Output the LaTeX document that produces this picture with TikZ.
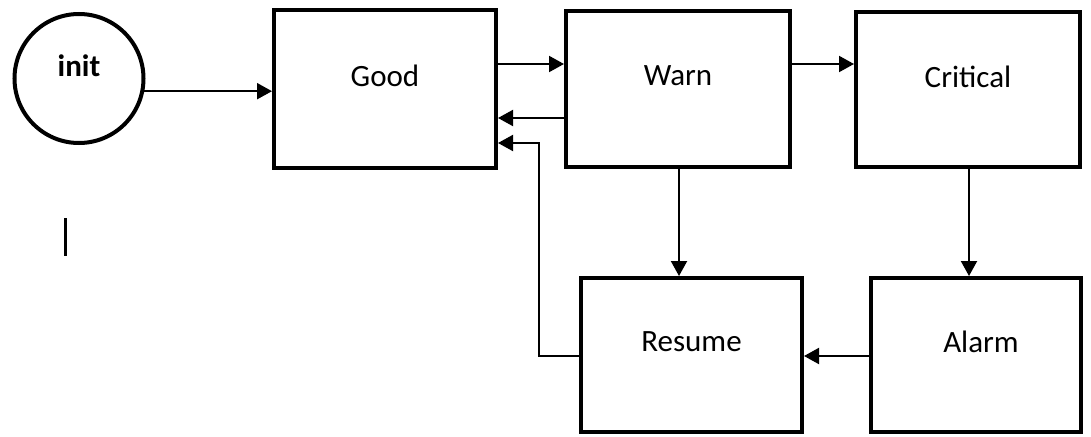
\documentclass[tikz,border=0pt]{standalone}
\usepackage{fontspec}
\setmainfont{Carlito}
\usetikzlibrary{arrows.meta}
\begin{document}
\begin{tikzpicture}[
  x=1pt, y=-1pt,
  statebox/.style={draw=black, line width=4pt, rectangle, inner sep=0pt,
    minimum width=224pt, minimum height=156pt},
  startcircle/.style={draw=black, line width=4pt, circle, inner sep=0pt,
    minimum size=129pt},
  lbl/.style={font=\fontsize{31}{31}\selectfont, yshift=13pt},
  conn/.style={draw=black, line width=2pt,
    -{Triangle[length=15pt, width=16pt]}},
]
\fill[white] (0,0) rectangle (1091,436);
\useasboundingbox (0,0) rectangle (1091,436);

% states
\node[startcircle, label={[lbl, font=\fontsize{31}{31}\selectfont\bfseries]center:init}] (init) at (79,78.5) {};
\node[statebox, minimum width=222pt, minimum height=158pt, label={[lbl]center:Good}] (good) at (385,89) {};
\node[statebox, label={[lbl]center:Warn}] (warn) at (678,89) {};
\node[statebox, minimum height=155pt, label={[lbl]center:Critical}] (critical) at (968,89.5) {};
\node[statebox, minimum width=221pt, minimum height=154pt, label={[lbl]center:Resume}] (resume) at (691.5,355) {};
\node[statebox, minimum width=210pt, minimum height=154pt, label={[lbl, xshift=5pt]center:Alarm}] (alarm) at (976,355) {};

% transitions
\draw[conn] (init.-11) -- (init.-11 -| good.west);
\draw[conn] ([yshift=25pt]good.east) -- ([yshift=25pt]good.east -| warn.west);
\draw[conn] ([yshift=-29pt]warn.west) -- ([yshift=-29pt]warn.west -| good.east);
\draw[conn] ([yshift=25pt]warn.east) -- ([yshift=25pt]warn.east -| critical.west);
\draw[conn] ([xshift=1pt]warn.south) -- ([xshift=1pt]warn.south |- resume.north);
\draw[conn] ([xshift=1pt]critical.south) -- ([xshift=1pt]critical.south |- alarm.north);
\draw[conn] ([yshift=-1pt]alarm.west) -- ([yshift=-1pt]alarm.west -| resume.east);
\draw[conn] ([yshift=-1pt]resume.west) -- ++(-40,0) |- ([yshift=-54pt]good.east);

% text cursor mark
\coordinate (cur-top) at (65,218);
\coordinate (cur-bot) at (65,256);
\draw[line width=3pt] (cur-top) -- (cur-bot);
\end{tikzpicture}
\end{document}
